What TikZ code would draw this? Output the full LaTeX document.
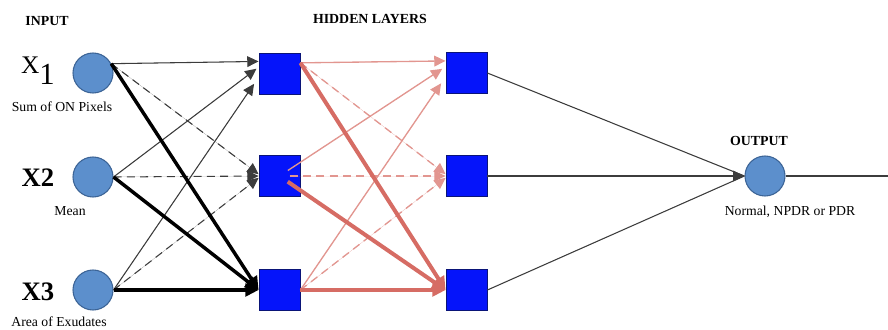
\documentclass[tikz,border=0pt]{standalone}
\usepackage{fontspec}
\setmainfont{Liberation Serif}
\usetikzlibrary{arrows.meta}
\definecolor{inblue}{RGB}{92,143,204}
\definecolor{inedge}{RGB}{60,100,150}
\definecolor{sqblue}{RGB}{5,20,250}
\definecolor{sqedge}{RGB}{10,20,120}
\definecolor{salmon}{RGB}{214,108,100}
\definecolor{salmonlt}{RGB}{226,150,144}
\definecolor{wire}{RGB}{60,60,60}
\tikzset{
  neuron/.style={circle,draw=inedge,fill=inblue,line width=0.8pt,minimum size=30pt,inner sep=0pt},
  unit/.style={rectangle,draw=sqedge,fill=sqblue,line width=0.6pt,minimum size=30.75pt,inner sep=0pt},
  hdr/.style={font=\bfseries\fontsize{10.4}{12}\selectfont,inner sep=0pt},
  lbl/.style={font=\fontsize{10.3}{12}\selectfont,inner sep=0pt},
  bigx/.style={font=\bfseries\fontsize{20}{22}\selectfont,inner sep=0pt},
  tip/.style={-{Triangle[length=8.5pt,width=8pt]}},
  bigtip/.style={-{Triangle[length=10pt,width=9.5pt]}},
  bthin/.style={tip,draw=wire,fill=wire,line width=0.8pt},
  bdash/.style={tip,draw=wire,fill=wire,line width=0.8pt,dash pattern=on 6pt off 4pt},
  bthick/.style={bigtip,draw=black,fill=black,line width=2.6pt},
  rthin/.style={tip,draw=salmonlt,fill=salmon,line width=1pt},
  rdash/.style={tip,draw=salmonlt,fill=salmon,line width=1pt,dash pattern=on 6pt off 4pt},
  rthick/.style={bigtip,draw=salmon,fill=salmon,line width=3pt},
  gline/.style={draw=wire,line width=0.8pt}
}
\begin{document}
\begin{tikzpicture}[x=0.75pt,y=-0.75pt]
\useasboundingbox (0,0) rectangle (888,329);

% headings
\node[hdr] (tin)  at (47,21)  {INPUT};
\node[hdr] (thid) at (370,19) {HIDDEN LAYERS};
\node[hdr] (tout) at (759,141) {OUTPUT};

% input layer
\node[neuron] (x1) at (93,73)  {};
\node[neuron] (x2) at (93,177) {};
\node[neuron] (x3) at (93,290) {};
\node[inner sep=0pt] (l1) at (38,71) {\fontsize{19}{20}\selectfont X\raisebox{-8pt}{\fontsize{23}{24}\selectfont 1}};
\node[bigx] (l2) at (38,178) {X2};
\node[bigx] (l3) at (38,292) {X3};
\node[lbl] (d1) at (62,107) {Sum of ON Pixels};
\node[lbl] (d2) at (70,211) {Mean};
\node[lbl] (d3) at (59,322) {Area of Exudates};

% hidden layers
\node[unit] (h1a) at (279.5,73.5) {};
\node[unit] (h1b) at (279.5,176)  {};
\node[unit] (h1c) at (279.5,290)  {};
\node[unit] (h2a) at (466.5,73)   {};
\node[unit] (h2b) at (466.5,176)  {};
\node[unit] (h2c) at (466.5,290)  {};

% output
\node[neuron] (out) at (765,176) {};
\node[lbl] (dout) at (790,212) {Normal, NPDR or PDR};
\coordinate (exit) at (888,176);

% input -> first hidden layer
\draw[bthin]  (x1.27) -- (h1a.150);
\draw[bthin,shorten >=2pt]  (x2.east) -- (h1a.163);
\draw[bthin,shorten >=6pt] (x3.east) -- (h1a.190);
\draw[bdash]  (x1.27) -- (h1b.175);
\draw[bdash]  (x2.east) -- (h1b.west);
\draw[bdash]  (x3.east) -- (h1b.185);
\draw[bthick] (x1.27) -- (h1c.west);
\draw[bthick] (x2.east) -- (h1c.west);
\draw[bthick] (x3.east) -- (h1c.west);

% first -> second hidden layer
\draw[rthin]  (h1a.27) -- (h2a.150);
\draw[rthin,shorten <=7.5pt,shorten >=3pt]  (h1b.center) -- (h2a.163);
\draw[rthin,shorten >=6pt]  (h1c.east) -- (h2a.190);
\draw[rdash]  (h1a.27) -- (h2b.175);
\draw[rdash,shorten <=7.5pt] (h1b.center) -- (h2b.west);
\draw[rdash]  (h1c.east) -- (h2b.185);
\draw[rthick] (h1a.27) -- (h2c.west);
\draw[rthick,shorten <=7.5pt] (h1b.center) -- (h2c.west);
\draw[rthick] (h1c.east) -- (h2c.west);

% second hidden layer -> output
\draw[gline] (h2a.east) -- (out.west);
\draw[gline,tip,fill=black,draw=wire] (h2b.east) -- (out.west);
\draw[gline] (h2c.east) -- (out.west);
\draw[gline] (out.east) -- (exit);
\end{tikzpicture}
\end{document}
